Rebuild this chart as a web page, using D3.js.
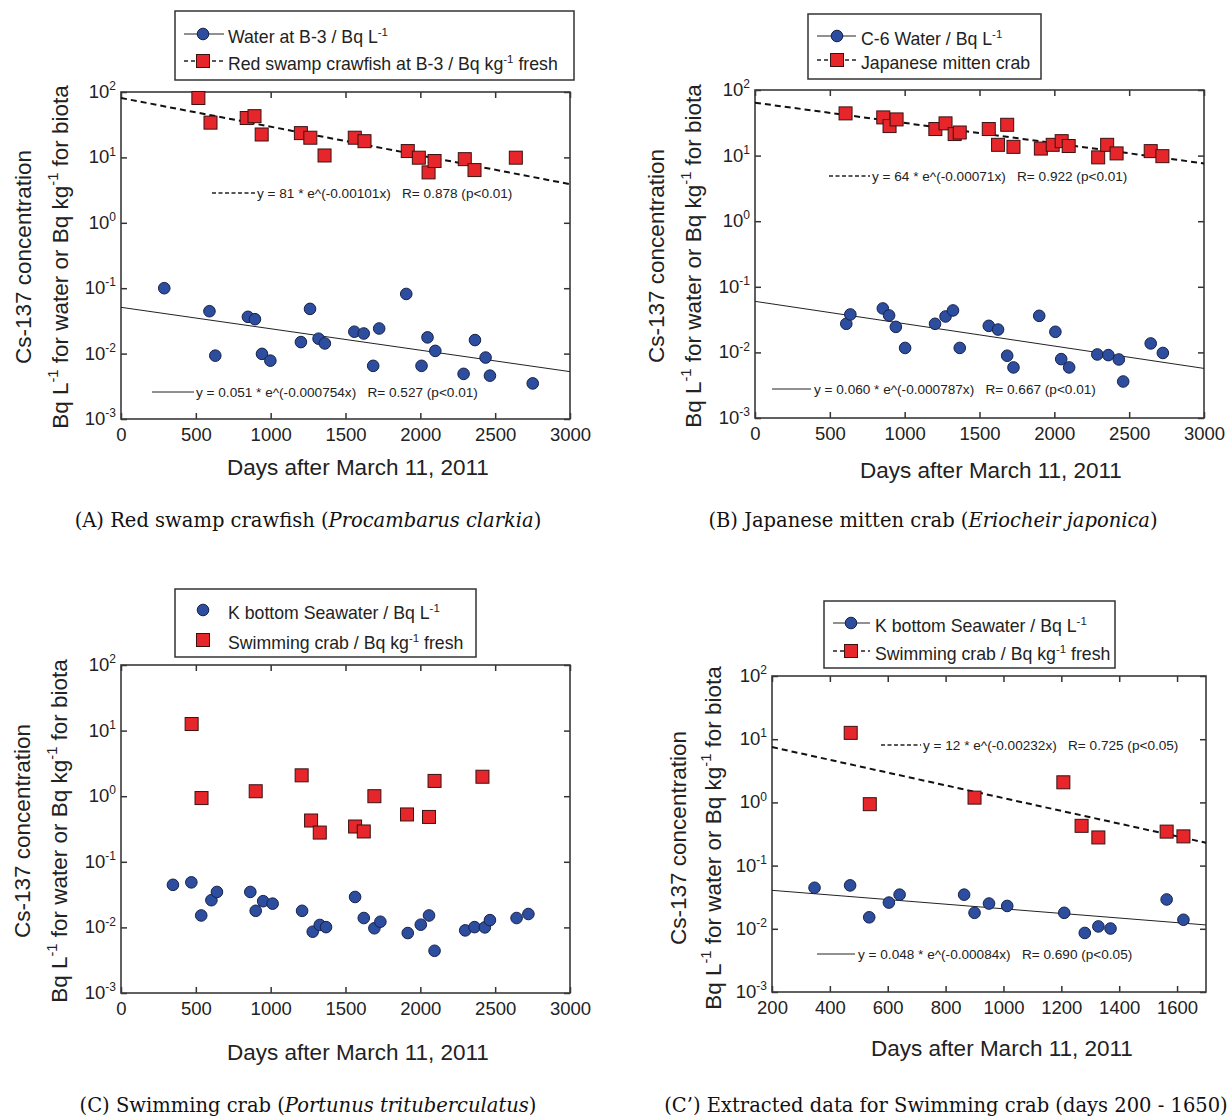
<!DOCTYPE html>
<html>
<head>
<meta charset="utf-8">
<script src="https://cdn.jsdelivr.net/npm/d3@7"></script>
<style>
body { margin: 0; background: #fff; }
svg text { font-family: "Liberation Sans", Arial, sans-serif; fill: #222; }
svg text.eq { white-space: pre; }
svg text.cap { font-family: "DejaVu Serif", "Liberation Serif", serif; fill: #111; }
</style>
</head>
<body>
<svg id="chart" width="1230" height="1117"></svg>
<script>
// ---- data ----
let xTicksFull = [0, 500, 1000, 1500, 2000, 2500, 3000];
let xTicksShort = [200, 400, 600, 800, 1000, 1200, 1400, 1600];
let yTicks = [1e-3, 1e-2, 1e-1, 1e0, 1e1, 1e2];

// (A) water at B-3 and red swamp crawfish
let waterADays = [289, 591, 630, 848, 895, 942, 998, 1202, 1263, 1320, 1362, 1559, 1622, 1725, 1685, 1906, 2008, 2048, 2100, 2289, 2365, 2436, 2465, 2751];
let waterAConc = [0.10, 0.0445, 0.0093, 0.0365, 0.0336, 0.0099, 0.0078, 0.0150, 0.0483, 0.0169, 0.0143, 0.0216, 0.0203, 0.0242, 0.0065, 0.0817, 0.0065, 0.0177, 0.011, 0.0049, 0.0161, 0.0087, 0.0046, 0.0035];
let crawfishDays = [517, 598, 840, 892, 940, 1202, 1265, 1360, 1562, 1627, 1916, 1990, 2055, 2095, 2297, 2362, 2638];
let crawfishConc = [81, 34, 40, 42.7, 22.4, 23.5, 20, 10.7, 20, 17.7, 12.5, 9.9, 5.9, 8.8, 9.4, 6.4, 9.9];

// (B) C-6 water and Japanese mitten crab
let waterBDays = [610, 637, 854, 896, 941, 1003, 1203, 1273, 1323, 1368, 1562, 1624, 1685, 1727, 1899, 2007, 2046, 2099, 2287, 2361, 2431, 2460, 2644, 2725];
let waterBConc = [0.0273, 0.0379, 0.0468, 0.0366, 0.0245, 0.0117, 0.0273, 0.0353, 0.0436, 0.0117, 0.0254, 0.0223, 0.0089, 0.0059, 0.0361, 0.0206, 0.0079, 0.0059, 0.0093, 0.0091, 0.0078, 0.0036, 0.0137, 0.0098];
let mittenDays = [605, 857, 899, 946, 1205, 1273, 1334, 1368, 1562, 1624, 1685, 1727, 1910, 1989, 2049, 2096, 2293, 2353, 2416, 2644, 2722];
let mittenConc = [44, 38.2, 28.2, 35.6, 25.4, 31, 21.3, 22.5, 25.4, 14.6, 29.5, 13.6, 12.8, 14.6, 16.6, 14, 9.4, 14.6, 10.8, 11.7, 9.8];

// (C) K bottom seawater and swimming crab
let seaDays = [347, 470, 536, 604, 641, 864, 900, 950, 1013, 1210, 1281, 1328, 1370, 1564, 1622, 1693, 1733, 1916, 2003, 2058, 2095, 2300, 2362, 2431, 2465, 2643, 2722];
let seaConc = [0.0446, 0.0486, 0.0152, 0.026, 0.0347, 0.0347, 0.0179, 0.0251, 0.023, 0.0179, 0.0086, 0.0109, 0.0101, 0.0291, 0.0139, 0.0097, 0.0122, 0.0082, 0.011, 0.0152, 0.0044, 0.009, 0.0101, 0.0100, 0.0129, 0.0139, 0.016];
let swimDays = [472, 538, 900, 1207, 1270, 1328, 1564, 1622, 1693, 1911, 2058, 2095, 2415];
let swimConc = [12.6, 0.937, 1.19, 2.08, 0.426, 0.279, 0.345, 0.29, 1.0, 0.527, 0.483, 1.71, 1.98];

// fitted exponential lines, end points [day, value]
let fitWaterA = [[0, 0.051], [3000, 0.0053]];
let fitCrawfish = [[0, 81], [3000, 3.9]];
let fitWaterB = [[0, 0.060], [3000, 0.0057]];
let fitMitten = [[0, 64], [3000, 7.6]];
let fitSeaC2 = [[200, 0.0406], [1700, 0.0115]];
let fitSwimC2 = [[200, 7.5], [1700, 0.23]];

function zip(xs, ys) { return xs.map((d, i) => [d, ys[i]]); }

let seaPts = zip(seaDays, seaConc);
let swimPts = zip(swimDays, swimConc);

let RED = "#e6262a", BLUE = "#2d4e9e";

let panels = [
  {
    plot: [121, 570, 92, 419], xDomain: [0, 3000], xTicks: xTicksFull,
    water: zip(waterADays, waterAConc), biota: zip(crawfishDays, crawfishConc),
    fitWater: fitWaterA, fitBiota: fitCrawfish,
    legend: { box: [175, 11, 574, 80], rows: [37, 64], sym: 203, line: [184, 224], tx: 228, lines: true,
      labels: [[["Water at B-3 / Bq L"], ["-1", "sup"]], [["Red swamp crawfish at B-3 / Bq kg"], ["-1", "sup"], [" fresh"]]] },
    eqs: [
      { y: 193, line: [212, 255], tx: 257, dash: true, text: "y = 81 * e^(-0.00101x)   R= 0.878 (p<0.01)" },
      { y: 392, line: [152, 194], tx: 196, dash: false, text: "y = 0.051 * e^(-0.000754x)   R= 0.527 (p<0.01)" }
    ],
    ytitle: { x: [23, 60], cy: 257 }, xtitle: { x: 358, y: 475 },
    caption: { x: 308, y: 527, parts: [["(A) Red swamp crawfish ("], ["Procambarus clarkia", "i"], [")"]] }
  },
  {
    plot: [755, 1204, 90, 418], xDomain: [0, 3000], xTicks: xTicksFull,
    water: zip(waterBDays, waterBConc), biota: zip(mittenDays, mittenConc),
    fitWater: fitWaterB, fitBiota: fitMitten,
    legend: { box: [808, 14, 1041, 79], rows: [39, 63], sym: 837, line: [817, 856], tx: 861, lines: true,
      labels: [[["C-6 Water / Bq L"], ["-1", "sup"]], [["Japanese mitten crab"]]] },
    eqs: [
      { y: 176, line: [829, 870], tx: 872, dash: true, text: "y = 64 * e^(-0.00071x)   R= 0.922 (p<0.01)" },
      { y: 389, line: [772, 811], tx: 814, dash: false, text: "y = 0.060 * e^(-0.000787x)   R= 0.667 (p<0.01)" }
    ],
    ytitle: { x: [656, 693], cy: 256 }, xtitle: { x: 991, y: 478 },
    caption: { x: 933, y: 527, parts: [["(B) Japanese mitten crab ("], ["Eriocheir japonica", "i"], [")"]] }
  },
  {
    plot: [121, 570, 665, 993], xDomain: [0, 3000], xTicks: xTicksFull,
    water: seaPts, biota: swimPts,
    legend: { box: [175, 589, 476, 657], rows: [613, 643], sym: 203, tx: 228, lines: false,
      labels: [[["K bottom Seawater / Bq L"], ["-1", "sup"]], [["Swimming crab / Bq kg"], ["-1", "sup"], [" fresh"]]] },
    eqs: [],
    ytitle: { x: [22, 59], cy: 831 }, xtitle: { x: 358, y: 1060 },
    caption: { x: 308, y: 1112, parts: [["(C) Swimming crab ("], ["Portunus trituberculatus", "i"], [")"]] }
  },
  {
    plot: [772, 1206, 676, 992], xDomain: [200, 1700], xTicks: xTicksShort,
    water: seaPts.filter(d => d[0] <= 1650), biota: swimPts.filter(d => d[0] <= 1650),
    fitWater: fitSeaC2, fitBiota: fitSwimC2,
    legend: { box: [824, 601, 1115, 668], rows: [626, 654], sym: 851, line: [833, 870], tx: 875, lines: true,
      labels: [[["K bottom Seawater / Bq L"], ["-1", "sup"]], [["Swimming crab / Bq kg"], ["-1", "sup"], [" fresh"]]] },
    eqs: [
      { y: 745, line: [881, 921], tx: 923, dash: true, text: "y = 12 * e^(-0.00232x)   R= 0.725 (p<0.05)" },
      { y: 954, line: [817, 855], tx: 858, dash: false, text: "y = 0.048 * e^(-0.00084x)   R= 0.690 (p<0.05)" }
    ],
    ytitle: { x: [678, 713], cy: 838 }, xtitle: { x: 1002, y: 1056 },
    caption: { x: 946, y: 1112, parts: [["(C\u2019) Extracted data for Swimming crab (days 200 - 1650)"]] }
  }
];

let svg = d3.select("#chart");

// write text pieces with superscripts / italics into a text element
function richText(sel, parts, size) {
  let raised = false;
  parts.forEach(p => {
    let t = sel.append("tspan").text(p[0]);
    if (p[1] === "sup") {
      t.attr("font-size", size * 0.65).attr("dy", -size * 0.42);
      raised = true;
    } else {
      if (raised) { t.attr("dy", size * 0.42); raised = false; }
      if (p[1] === "i") t.attr("font-style", "italic");
    }
  });
  return sel;
}

function drawSquare(g, cx, cy) {
  g.append("rect")
    .attr("x", cx - 6.5).attr("y", cy - 6.5)
    .attr("width", 13).attr("height", 13)
    .attr("fill", RED).attr("stroke", "#3a1212").attr("stroke-width", 1);
}

function drawCircle(g, cx, cy) {
  g.append("circle")
    .attr("cx", cx).attr("cy", cy).attr("r", 5.8)
    .attr("fill", BLUE).attr("stroke", "#16214a").attr("stroke-width", 1);
}

panels.forEach(function(p) {
  let [x0, x1, y0, y1] = p.plot;
  let x = d3.scaleLinear().domain(p.xDomain).range([x0, x1]);
  let y = d3.scaleLog().domain([1e-3, 1e2]).range([y1, y0]);
  let g = svg.append("g");

  // bottom axis with labels, inward ticks
  let bottom = g.append("g")
    .attr("transform", `translate(0,${y1})`)
    .call(d3.axisBottom(x).tickValues(p.xTicks).tickSize(-6).tickSizeOuter(0).tickPadding(9).tickFormat(d3.format("d")));
  bottom.selectAll("text").attr("font-size", 18.5).attr("fill", "#222");

  g.append("g")
    .attr("transform", `translate(0,${y0})`)
    .call(d3.axisTop(x).tickValues(p.xTicks).tickSize(-6).tickSizeOuter(0).tickFormat(""));

  let left = g.append("g")
    .attr("transform", `translate(${x0},0)`)
    .call(d3.axisLeft(y).tickValues(yTicks).tickSize(-6).tickSizeOuter(0).tickPadding(5).tickFormat(""));
  left.selectAll(".tick text").each(function(d) {
    let t = d3.select(this).attr("font-size", 18.5).attr("fill", "#222").attr("dy", "0.3em");
    richText(t, [["10"], [String(Math.round(Math.log10(d))), "sup"]], 18.5);
  });

  g.append("g")
    .attr("transform", `translate(${x1},0)`)
    .call(d3.axisRight(y).tickValues(yTicks).tickSize(-6).tickSizeOuter(0).tickFormat(""));

  g.selectAll(".domain").remove();
  g.selectAll(".tick line").attr("stroke", "#333").attr("stroke-width", 1.5);

  // frame
  g.append("rect")
    .attr("x", x0).attr("y", y0)
    .attr("width", x1 - x0).attr("height", y1 - y0)
    .attr("fill", "none").attr("stroke", "#3a3a3a").attr("stroke-width", 1.6);

  // fitted lines
  let line = d3.line().x(d => x(d[0])).y(d => y(d[1]));
  if (p.fitWater) {
    g.append("path").attr("d", line(p.fitWater))
      .attr("fill", "none").attr("stroke", "#222").attr("stroke-width", 1);
  }
  if (p.fitBiota) {
    g.append("path").attr("d", line(p.fitBiota))
      .attr("fill", "none").attr("stroke", "#111").attr("stroke-width", 2)
      .attr("stroke-dasharray", "6,4");
  }

  // equations
  p.eqs.forEach(function(e) {
    g.append("line")
      .attr("x1", e.line[0]).attr("x2", e.line[1])
      .attr("y1", e.y).attr("y2", e.y)
      .attr("stroke", "#222")
      .attr("stroke-width", e.dash ? 1.5 : 1)
      .attr("stroke-dasharray", e.dash ? "4,2.5" : null);
    g.append("text")
      .attr("class", "eq")
      .attr("x", e.tx).attr("y", e.y + 4.5)
      .attr("font-size", 13.6)
      .text(e.text);
  });

  // points
  let marks = g.append("g");
  p.biota.forEach(d => drawSquare(marks, x(d[0]), y(d[1])));
  p.water.forEach(d => drawCircle(marks, x(d[0]), y(d[1])));

  // legend
  let L = p.legend;
  let lg = g.append("g");
  lg.append("rect")
    .attr("x", L.box[0]).attr("y", L.box[1])
    .attr("width", L.box[2] - L.box[0]).attr("height", L.box[3] - L.box[1])
    .attr("fill", "#fff").attr("stroke", "#333").attr("stroke-width", 1.5);
  L.rows.forEach(function(ry, i) {
    if (L.lines) {
      lg.append("line")
        .attr("x1", L.line[0]).attr("x2", L.line[1])
        .attr("y1", ry - 3).attr("y2", ry - 3)
        .attr("stroke", "#222")
        .attr("stroke-width", i === 0 ? 1 : 1.5)
        .attr("stroke-dasharray", i === 0 ? null : "4,3");
    }
    if (i === 0) drawCircle(lg, L.sym, ry - 3);
    else drawSquare(lg, L.sym, ry - 3);
    let t = lg.append("text")
      .attr("x", L.tx).attr("y", ry + 6)
      .attr("font-size", 17.7);
    richText(t, L.labels[i], 17.7);
  });

  // axis titles
  let cy = p.ytitle.cy;
  g.append("text")
    .attr("transform", `translate(${p.ytitle.x[0]},${cy}) rotate(-90)`)
    .attr("text-anchor", "middle").attr("dy", "0.35em")
    .attr("font-size", 22.5)
    .text("Cs-137 concentration");
  let yt2 = g.append("text")
    .attr("transform", `translate(${p.ytitle.x[1]},${cy}) rotate(-90)`)
    .attr("text-anchor", "middle").attr("dy", "0.35em")
    .attr("font-size", 22.5);
  richText(yt2, [["Bq L"], ["-1", "sup"], [" for water or Bq kg"], ["-1", "sup"], [" for biota"]], 22.5);

  g.append("text")
    .attr("x", p.xtitle.x).attr("y", p.xtitle.y)
    .attr("text-anchor", "middle")
    .attr("font-size", 22.5)
    .text("Days after March 11, 2011");

  let cap = g.append("text")
    .attr("class", "cap")
    .attr("x", p.caption.x).attr("y", p.caption.y)
    .attr("text-anchor", "middle")
    .attr("font-size", 19.5);
  richText(cap, p.caption.parts, 19.5);
});
</script>
</body>
</html>
